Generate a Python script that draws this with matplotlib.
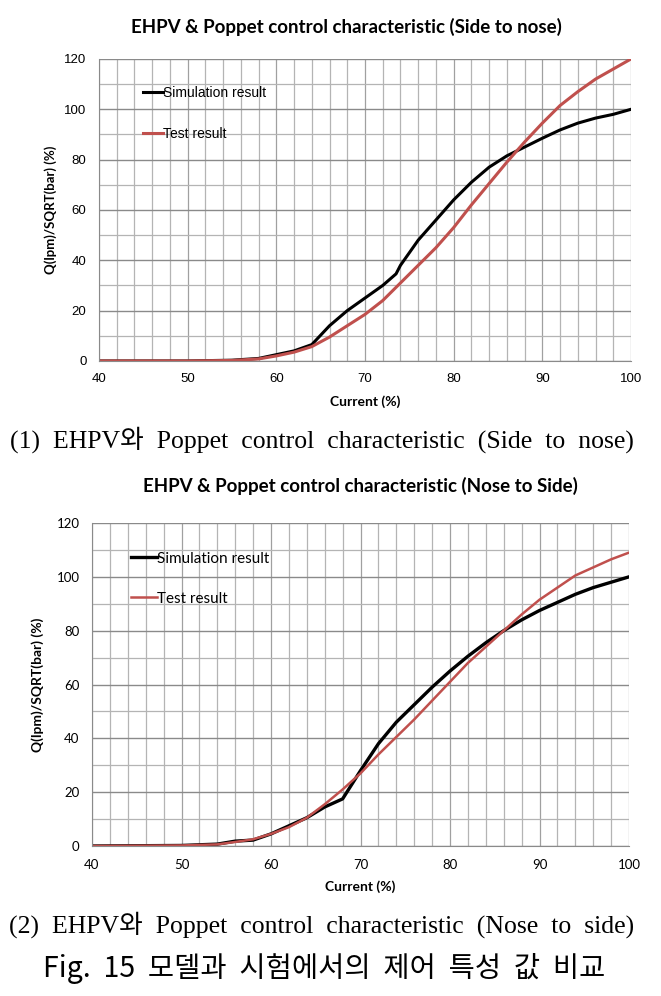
import matplotlib
matplotlib.use("Agg")
import matplotlib.pyplot as plt
import numpy as np

# ---- data ----
cur = [40, 50, 55, 58, 60, 62, 64, 66, 68, 70, 72, 73.5, 74, 76, 78, 80,
       82, 84, 86, 88, 90, 92, 94, 96, 98, 100]
sim_side = [0, 0, 0.3, 1, 2.5, 4, 6.5, 14, 20, 25, 30, 34.6, 38, 48, 56, 64,
            71, 77, 81.5, 85, 88.5, 91.8, 94.5, 96.5, 98, 100]

cur_t = [40, 50, 55, 58, 60, 62, 64, 66, 68, 70, 72, 74, 76, 78, 80,
         82, 84, 86, 88, 90, 92, 94, 96, 98, 100]
test_side = [0, 0, 0.2, 0.8, 2, 3.5, 5.7, 9.5, 14, 18.5, 24, 31, 38, 45, 53,
             62, 70.5, 79, 87, 94.5, 101.5, 107, 112, 116, 120]

cur2 = [40, 50, 54, 56, 58, 60, 62, 64, 66, 68, 70, 72, 74, 76, 78, 80,
        82, 84, 86, 88, 90, 92, 94, 96, 98, 100]
sim_nose = [0, 0.2, 0.7, 1.8, 2.2, 4.5, 7.5, 10.5, 14.5, 17.5, 28, 38, 46,
            52.5, 59, 65, 70.5, 75.5, 80, 84, 87.5, 90.5, 93.5, 96, 98, 100]
test_nose = [0, 0.2, 0.6, 1.5, 2.5, 4.5, 7, 10.5, 15.5, 21, 27, 34, 40.5, 47,
             54, 61, 68, 74, 80, 86, 91.5, 96, 100.5, 103.5, 106.5, 109]

xticks = [40, 50, 60, 70, 80, 90, 100]
yticks = [0, 20, 40, 60, 80, 100, 120]

RED = "#c0504d"

plt.rcParams['font.family'] = ['Liberation Sans', 'Noto Sans CJK KR']

fig = plt.figure(figsize=(6.61, 9.96), dpi=100)


def setup(ax, tickfont):
    ax.set_xlim(40, 100)
    ax.set_ylim(0, 120)
    ax.set_xticks(xticks)
    ax.set_yticks(yticks)
    ax.set_xticks(np.arange(40, 101, 2), minor=True)
    ax.set_yticks(np.arange(0, 121, 10), minor=True)
    ax.grid(which='minor', color='#b4b4b4', linewidth=0.9)
    ax.grid(which='major', axis='y', color='#8a8a8a', linewidth=1.0)
    ax.grid(which='major', axis='x', color='#a0a0a0', linewidth=0.9)
    ax.set_axisbelow(True)
    for s in ['top', 'right']:
        ax.spines[s].set_visible(False)
    for s in ['left', 'bottom']:
        ax.spines[s].set_color('#8a8a8a')
    ax.tick_params(which='both', length=0, pad=9, labelsize=9.5)
    for lab in ax.get_xticklabels() + ax.get_yticklabels():
        lab.set_family(tickfont)


# ---- top chart ----
ax1 = fig.add_axes([0.1498, 0.6376, 0.8048, 0.3032])
setup(ax1, 'Liberation Sans')
ax1.plot(cur, sim_side, color='black', lw=2.2, label='Simulation result')
ax1.plot(cur_t, test_side, color=RED, lw=2.2, label='Test result')
ax1.set_title('EHPV & Poppet control characteristic (Side to nose)',
              fontsize=13.5, fontweight='bold', family='Lato', pad=19, x=0.466)
ax1.set_xlabel('Current (%)', fontsize=10, fontweight='bold', family='Lato', labelpad=7)
ax1.set_ylabel('Q(lpm)/SQRT(bar) (%)', fontsize=9.5, fontweight='bold', family='Lato', labelpad=5)
ax1.legend(loc='upper left', bbox_to_anchor=(0.07, 0.935), frameon=False,
           handlelength=1.45, handletextpad=0.0, labelspacing=1.95,
           borderpad=0, prop={'family': 'Liberation Sans', 'size': 10})

# ---- bottom chart ----
ax2 = fig.add_axes([0.1392, 0.1506, 0.8124, 0.3243])
setup(ax2, 'Lato')
ax2.plot(cur2, sim_nose, color='black', lw=2.4, label='Simulation result')
ax2.plot(cur2, test_nose, color=RED, lw=1.8, label='Test result')
ax2.set_title('EHPV & Poppet control characteristic (Nose to Side)',
              fontsize=13.5, fontweight='bold', family='Lato', pad=22)
ax2.set_xlabel('Current (%)', fontsize=10, fontweight='bold', family='Lato', labelpad=7)
ax2.set_ylabel('Q(lpm)/SQRT(bar) (%)', fontsize=10, fontweight='bold', family='Lato', labelpad=9)
ax2.legend(loc='upper left', bbox_to_anchor=(0.058, 0.935), frameon=False,
           handlelength=1.7, handletextpad=0.0, labelspacing=1.7,
           borderpad=0, prop={'family': 'Lato', 'size': 11})

# ---- captions ----
serif = ['Liberation Serif', 'Noto Sans CJK KR']
fig.text(0.487, 1 - 440 / 996, '(1)  EHPV와  Poppet  control  characteristic  (Side  to  nose)',
         ha='center', va='center', fontsize=18.5, family=serif)
fig.text(0.487, 1 - 925 / 996, '(2)  EHPV와  Poppet  control  characteristic  (Nose  to  side)',
         ha='center', va='center', fontsize=18.5, family=serif)
fig.text(0.49, 1 - 968 / 996, 'Fig.  15  모델과  시험에서의  제어  특성  값  비교',
         ha='center', va='center', fontsize=20.5, family=['Noto Sans CJK KR', 'DejaVu Sans'],
         fontweight='light')

fig.savefig('out.png', dpi=100)
